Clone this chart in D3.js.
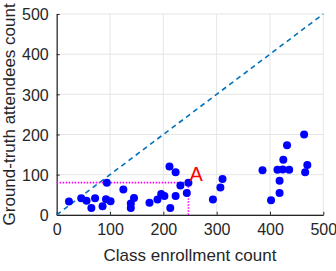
<!DOCTYPE html>
<html>
<head>
<meta charset="utf-8">
<script src="https://cdn.jsdelivr.net/npm/d3@7"></script>
<style>
html,body{margin:0;padding:0;background:#fff;}
svg{display:block;font-family:"Liberation Sans",Arial,Helvetica,sans-serif;}
</style>
</head>
<body>
<div id="chart"></div>
<script>
const enrollment = [23,46,56,65,72,86,92.5,94,101,125,139,139,145,174,189,196,202,211.5,223,213,223,232,247,244,293,307,311,386,402,414,424,436,425,432,418,418,464,470,466];
const attendees  = [33,41,35,17,41,21,39,80,34,63,28,17,42,30,38,52,47,120,106,17,47,73,80,54,38,68,89,111,36,112,113,112,137,173,85,54,200,124,106];
const xTicks = [0,100,200,300,400,500];
const yTicks = [0,100,200,300,400,500];
const diagonal = [[0,0],[500,500]];
const pointA = {x:247, y:80, label:"A"};
const labelA = {x:249, y:85};
const xLabel = "Class enrollment count";
const yLabel = "Ground-truth attendees count";

const W = 336, H = 271;
const margin = {left:56.7, right:W-323.3, top:14, bottom:H-214.8};
const svg = d3.select("#chart").append("svg").attr("width",W).attr("height",H);
const x = d3.scaleLinear().domain([0,500]).range([margin.left, W-margin.right]);
const y = d3.scaleLinear().domain([0,500]).range([H-margin.bottom, margin.top]);

// grid
const g = svg.append("g");
g.selectAll(".vg").data(xTicks).enter().append("line")
  .attr("x1",d=>x(d)).attr("x2",d=>x(d)).attr("y1",y(0)).attr("y2",y(500))
  .attr("stroke","#e5e5e5").attr("stroke-width",1);
g.selectAll(".hg").data(yTicks).enter().append("line")
  .attr("x1",x(0)).attr("x2",x(500)).attr("y1",d=>y(d)).attr("y2",d=>y(d))
  .attr("stroke","#e5e5e5").attr("stroke-width",1);

// axes
const xAxis = d3.axisBottom(x).tickValues(xTicks).tickSizeInner(-3).tickSizeOuter(0).tickPadding(9);
const yAxis = d3.axisLeft(y).tickValues(yTicks).tickSizeInner(-3).tickSizeOuter(0).tickPadding(8);
const ax = svg.append("g").attr("transform",`translate(0,${y(0)})`).call(xAxis);
const ay = svg.append("g").attr("transform",`translate(${x(0)},0)`).call(yAxis);
[ax,ay].forEach(a=>{
  a.select(".domain").attr("stroke","#262626").attr("stroke-width",1.2);
  a.selectAll(".tick line").attr("stroke","#262626");
  a.selectAll(".tick text").attr("fill","#262626").style("font-size","16px").attr("font-family","Liberation Sans, Arial, sans-serif");
});
ax.selectAll(".tick text").attr("dy","0.71em");
ay.selectAll(".tick text").attr("dy","0.36em");

// diagonal
const line = d3.line().x(d=>x(d[0])).y(d=>y(d[1]));
svg.append("path").datum(diagonal).attr("d",line)
  .attr("fill","none").attr("stroke","#0072BD").attr("stroke-width",1.6).attr("stroke-dasharray","5,4");

// magenta guides
svg.append("path").datum([[0,pointA.y],[pointA.x,pointA.y]]).attr("d",line)
  .attr("fill","none").attr("stroke","#FF00FF").attr("stroke-width",1.6).attr("stroke-dasharray","1.5,1.5");
svg.append("path").datum([[pointA.x,0],[pointA.x,pointA.y]]).attr("d",line)
  .attr("fill","none").attr("stroke","#FF00FF").attr("stroke-width",1.6).attr("stroke-dasharray","1.5,1.5");

// points
svg.append("g").selectAll("circle").data(enrollment.map((e,i)=>[e,attendees[i]])).enter().append("circle")
  .attr("cx",d=>x(d[0])).attr("cy",d=>y(d[1])).attr("r",4).attr("fill","#0000FF");

// label A
svg.append("text").attr("x",x(labelA.x)).attr("y",y(labelA.y)).text(pointA.label)
  .attr("fill","#FF0000").style("font-size","20px");

// axis labels
svg.append("text").attr("x",(x(0)+x(500))/2).attr("y",261).attr("text-anchor","middle")
  .attr("fill","#262626").style("font-size","17px").text(xLabel);
svg.append("text").attr("transform",`translate(15,${(y(0)+y(500))/2}) rotate(-90)`).attr("text-anchor","middle")
  .attr("fill","#262626").style("font-size","17px").text(yLabel);
</script>
</body>
</html>
